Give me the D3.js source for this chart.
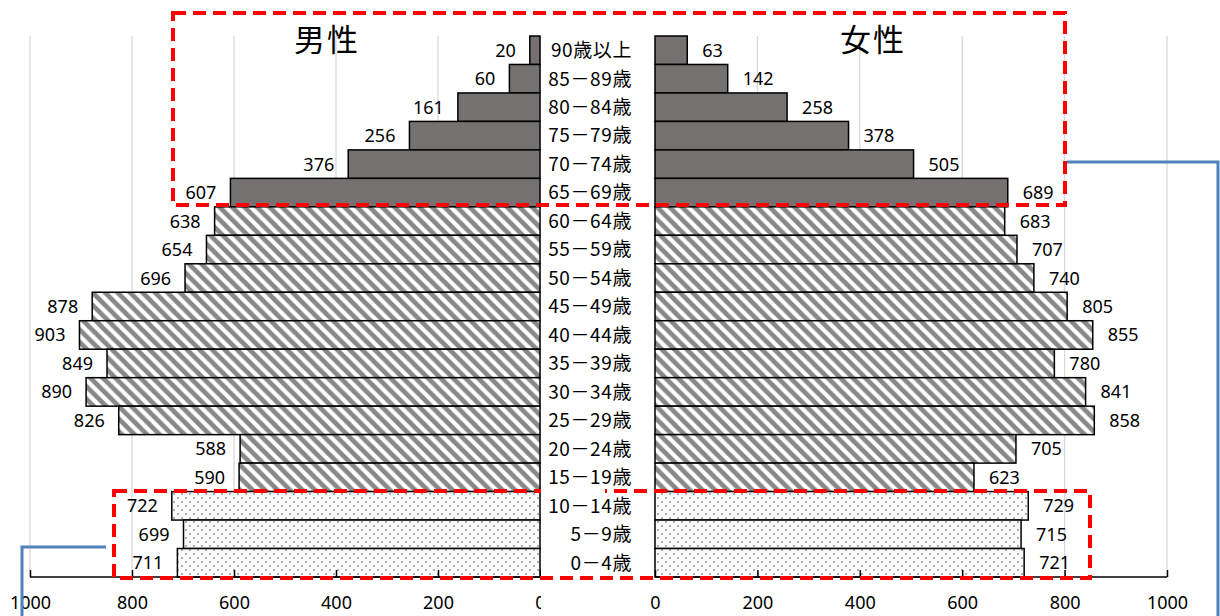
<!DOCTYPE html>
<html><head><meta charset="utf-8">
<script src="https://cdn.jsdelivr.net/npm/d3@7"></script>
<style>html,body{margin:0;padding:0;background:#fff;}svg{display:block;}</style>
</head><body>
<script>
const categories = ["90歳以上","85－89歳","80－84歳","75－79歳","70－74歳","65－69歳","60－64歳","55－59歳","50－54歳","45－49歳","40－44歳","35－39歳","30－34歳","25－29歳","20－24歳","15－19歳","10－14歳","5－9歳","0－4歳"];
const male   = [20,60,161,256,376,607,638,654,696,878,903,849,890,826,588,590,722,699,711];
const female = [63,142,258,378,505,689,683,707,740,805,855,780,841,858,705,623,729,715,721];
const ageGroup = ["old","old","old","old","old","old","work","work","work","work","work","work","work","work","work","work","young","young","young"];
const tickValues = [0,200,400,600,800,1000];
const sideTitles = ["男性","女性"];

const W = 1220, H = 616;
const svg = d3.select("body").append("svg").attr("width", W).attr("height", H);

const defs = svg.append("defs");
const P = 12.5;
const hatch = defs.append("pattern").attr("id","hatch").attr("patternUnits","userSpaceOnUse")
  .attr("width",P).attr("height",P);
hatch.append("rect").attr("width",P).attr("height",P).attr("fill","#fff");
hatch.append("path").attr("d",`M-3,-3L${P+3},${P+3}M-3,${P-3}L3,${P+3}M${P-3},-3L${P+3},3`)
  .attr("stroke","#888").attr("stroke-width",4.6);
const dots = defs.append("pattern").attr("id","dots").attr("patternUnits","userSpaceOnUse")
  .attr("width",8).attr("height",8);
dots.append("rect").attr("width",8).attr("height",8).attr("fill","#fafafa");
dots.append("circle").attr("cx",2).attr("cy",2).attr("r",0.9).attr("fill","#8c8c8c");
dots.append("circle").attr("cx",6).attr("cy",6).attr("r",0.9).attr("fill","#8c8c8c");

const fillFor = {old:"#767171", work:"url(#hatch)", young:"url(#dots)"};

const xM = d3.scaleLinear().domain([0,1000]).range([540,30]);
const xF = d3.scaleLinear().domain([0,1000]).range([655,1167]);
const y = d3.scaleBand().domain(categories).range([36,577]).padding(0);
const axisY = 577;

// gridlines
const grid = svg.append("g").attr("stroke","#d9d9d9").attr("stroke-width",1.3);
tickValues.forEach(v=>{
  grid.append("line").attr("x1",xM(v)).attr("x2",xM(v)).attr("y1",36).attr("y2",axisY);
  grid.append("line").attr("x1",xF(v)).attr("x2",xF(v)).attr("y1",36).attr("y2",axisY);
});

// bars
svg.append("g").selectAll("rect").data(categories).join("rect")
  .attr("x",(d,i)=>xM(male[i])).attr("y",d=>y(d))
  .attr("width",(d,i)=>xM(0)-xM(male[i])).attr("height",y.bandwidth())
  .attr("fill",(d,i)=>fillFor[ageGroup[i]]).attr("stroke","#000").attr("stroke-width",1.5);
svg.append("g").selectAll("rect").data(categories).join("rect")
  .attr("x",xF(0)).attr("y",d=>y(d))
  .attr("width",(d,i)=>xF(female[i])-xF(0)).attr("height",y.bandwidth())
  .attr("fill",(d,i)=>fillFor[ageGroup[i]]).attr("stroke","#000").attr("stroke-width",1.5);

// axes
const axM = d3.axisBottom(xM).tickValues(tickValues).tickSize(-7).tickPadding(19).tickFormat(d3.format("d"));
const axF = d3.axisBottom(xF).tickValues(tickValues).tickSize(-7).tickPadding(19).tickFormat(d3.format("d"));
[axM,axF].forEach(ax=>{
  const g = svg.append("g").attr("transform",`translate(0,${axisY})`).call(ax);
  g.select(".domain").attr("stroke","#000").attr("stroke-width",1.5).attr("d", null);
  g.selectAll(".tick line").attr("stroke","#000").attr("stroke-width",1.5);
  g.selectAll(".tick text").attr("font-family","'Noto Sans', sans-serif").attr("font-size",18).attr("fill","#000");
});
svg.append("line").attr("x1",xM(1000)).attr("x2",xM(0)).attr("y1",axisY).attr("y2",axisY).attr("stroke","#000").attr("stroke-width",1.5);
svg.append("line").attr("x1",xF(0)).attr("x2",xF(1000)).attr("y1",axisY).attr("y2",axisY).attr("stroke","#000").attr("stroke-width",1.5);

// white label column (covers male "0" tick label half)
svg.append("rect").attr("x",541).attr("y",0).attr("width",107).attr("height",H).attr("fill","#fff");

// category labels
svg.append("g").selectAll("text").data(categories).join("text")
  .attr("x",632).attr("y",d=>y(d)+y.bandwidth()/2).attr("dy","0.36em")
  .attr("text-anchor","end").attr("font-family","'Noto Sans CJK JP', sans-serif")
  .attr("font-size",19).attr("letter-spacing",0.6).attr("fill","#000").text(d=>d);

// value labels
svg.append("g").selectAll("text").data(categories).join("text")
  .attr("x",(d,i)=>xM(male[i])-14).attr("y",d=>y(d)+y.bandwidth()/2).attr("dy","0.36em")
  .attr("text-anchor","end").attr("font-family","'Noto Sans', sans-serif")
  .attr("font-size",18).attr("fill","#000").text((d,i)=>male[i]);
svg.append("g").selectAll("text").data(categories).join("text")
  .attr("x",(d,i)=>xF(female[i])+15).attr("y",d=>y(d)+y.bandwidth()/2).attr("dy","0.36em")
  .attr("text-anchor","start").attr("font-family","'Noto Sans', sans-serif")
  .attr("font-size",18).attr("fill","#000").text((d,i)=>female[i]);

// titles
svg.append("text").attr("x",327).attr("y",51).attr("text-anchor","middle")
  .attr("font-family","'Noto Sans CJK JP', sans-serif").attr("font-size",31).attr("font-weight",400)
  .attr("letter-spacing",2).text(sideTitles[0]);
svg.append("text").attr("x",873).attr("y",51).attr("text-anchor","middle")
  .attr("font-family","'Noto Sans CJK JP', sans-serif").attr("font-size",31).attr("font-weight",400)
  .attr("letter-spacing",2).text(sideTitles[1]);

// red dashed annotation boxes
svg.append("rect").attr("x",173).attr("y",13).attr("width",1065-173).attr("height",205-13)
  .attr("fill","none").attr("stroke","#ff0000").attr("stroke-width",4).attr("stroke-dasharray","13,7");
svg.append("rect").attr("x",114).attr("y",491).attr("width",1090-114).attr("height",578-491)
  .attr("fill","none").attr("stroke","#ff0000").attr("stroke-width",4).attr("stroke-dasharray","13,7");
svg.append("rect").attr("x",541).attr("y",487).attr("width",64).attr("height",8).attr("fill","#fff");

// blue connector lines
svg.append("path").attr("d","M1067,162H1218V616").attr("fill","none").attr("stroke","#4f81bd").attr("stroke-width",3);
svg.append("path").attr("d","M106,547H22V616").attr("fill","none").attr("stroke","#4f81bd").attr("stroke-width",3);
</script>
</body></html>
